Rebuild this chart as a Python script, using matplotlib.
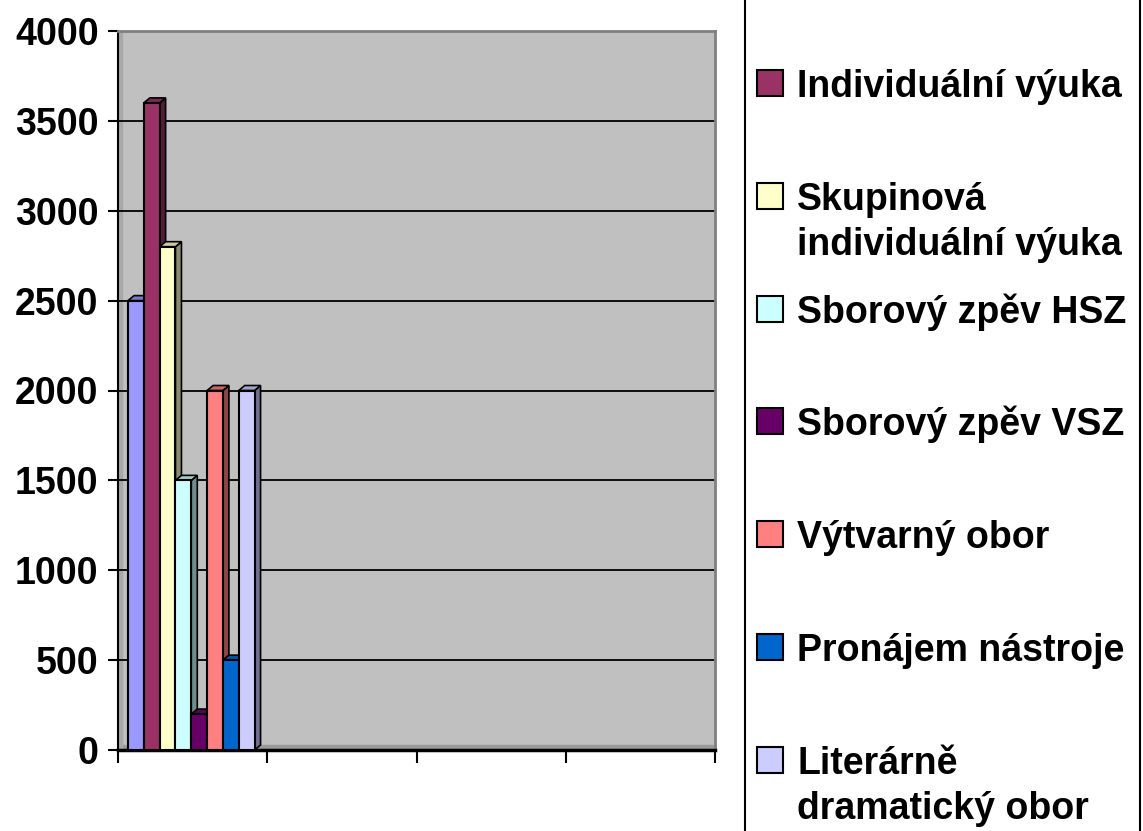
import matplotlib.pyplot as plt
from matplotlib.patches import Polygon, Rectangle
from matplotlib.colors import to_rgb

# Data (only the first category holds values)
categories = ['', '', '', '']
series_names = ['', 'Individuální výuka', 'Skupinová\nindividuální výuka',
                'Sborový zpěv HSZ', 'Sborový zpěv VSZ', 'Výtvarný obor',
                'Pronájem nástroje', 'Literárně\ndramatický obor']
series_values = [2500, 3600, 2800, 1500, 200, 2000, 500, 2000]
series_colors = ['#9999FF', '#993366', '#FFFFCC', '#CCFFFF',
                 '#660066', '#FF8080', '#0066CC', '#CCCCFF']
y_ticks = [0, 500, 1000, 1500, 2000, 2500, 3000, 3500, 4000]

plt.rcParams['font.family'] = ['Liberation Sans', 'DejaVu Sans']
plt.rcParams['font.weight'] = 'bold'

W, H = 1143, 831
fig = plt.figure(figsize=(W / 100, H / 100), dpi=100)
fig.set_facecolor('white')
ax = fig.add_axes([118 / W, 1 - 750 / H, (715 - 118) / W, (750 - 31) / H])
ax.set_xlim(0, len(categories))
ax.set_ylim(0, 4000)
ax.set_facecolor('#C0C0C0')

# pixel -> data conversion for the fake 3D depth
px_x = (715 - 118) / len(categories)
px_y = (750 - 31) / 4000
dx = 6 / px_x
dy = 5 / px_y

def darker(c, f):
    r, g, b = to_rgb(c)
    return (r * f, g * f, b * f)

# floor strip and side wall look
ax.axhspan(0, dy, color='#9A9A9A', zorder=0.5)
ax.axvspan(0, dx * 0.7, color='#A8A8A8', zorder=0.5)
ax.set_axisbelow(True)
ax.grid(axis='y', color='black', linewidth=1.3)
ax.grid(axis='x', visible=False)

start = 0.067
bw = 0.106
for i, (name, val, col) in enumerate(zip(series_names, series_values, series_colors)):
    x0 = start + i * bw
    z = 3 + i
    ax.bar(x0, val, width=bw, align='edge', color=col, edgecolor='black',
           linewidth=1.5, zorder=z)
    side = Polygon([(x0 + bw, 0), (x0 + bw + dx, dy), (x0 + bw + dx, val + dy), (x0 + bw, val)],
                   closed=True, facecolor=darker(col, 0.55), edgecolor='black', linewidth=1.2, zorder=z - 0.5)
    top = Polygon([(x0, val), (x0 + dx, val + dy), (x0 + bw + dx, val + dy), (x0 + bw, val)],
                  closed=True, facecolor=darker(col, 0.8), edgecolor='black', linewidth=1.2, zorder=z - 0.5)
    ax.add_patch(side)
    ax.add_patch(top)

# axes styling
for s in ['top', 'right']:
    ax.spines[s].set_color('#808080')
    ax.spines[s].set_linewidth(2)
ax.spines['left'].set_linewidth(1.5)
ax.spines['bottom'].set_linewidth(2.5)
ax.set_yticks(y_ticks)
ax.set_yticklabels([str(t) for t in y_ticks], fontsize=27, fontweight='bold')
ax.set_xticks(range(len(categories) + 1))
ax.set_xticklabels([])
ax.tick_params(axis='y', direction='out', length=7, width=1.5, pad=7)
ax.tick_params(axis='x', direction='out', length=9, width=1.5)

# legend box (cropped at top and bottom like the source)
fig.patches.append(Rectangle((745 / W, -0.05), (1140 - 745) / W, 1.1,
                             transform=fig.transFigure, facecolor='white',
                             edgecolor='black', linewidth=1.5, zorder=0))

# legend entries in equal slots, first one sits above the visible area
slot = 112.8
first_center = 83 - slot
for k, (name, col) in enumerate(zip(series_names, series_colors)):
    yc = first_center + k * slot
    if yc < 0:
        continue
    fig.patches.append(Rectangle((757 / W, 1 - (yc + 13) / H), 26 / W, 26 / H,
                                 transform=fig.transFigure, facecolor=col,
                                 edgecolor='black', linewidth=1.5, zorder=2))
    for j, line in enumerate(name.split('\n')):
        fig.text(797 / W, 1 - (yc + 14 + j * 45) / H, line, fontsize=27,
                 fontweight='bold', ha='left', va='baseline')

fig.savefig('out.png', dpi=100)
